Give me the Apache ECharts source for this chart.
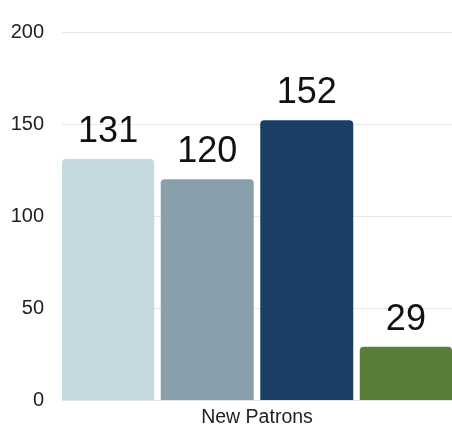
<!DOCTYPE html>
<html><head><meta charset="utf-8">
<script src="https://cdn.jsdelivr.net/npm/echarts@6/dist/echarts.min.js"></script>
<style>html,body{margin:0;padding:0;background:#fff}#c{width:452px;height:431px}</style>
</head><body><div id="c"></div>
<script>
const categories = ['New Patrons'];
const seriesNames = ['Series 1', 'Series 2', 'Series 3', 'Series 4'];
const values = [131, 120, 152, 29];
const colors = ['#c7d9e0', '#899fac', '#1a3f65', '#5b7d3a'];
const yTicks = [0, 50, 100, 150, 200];

const chart = echarts.init(document.getElementById('c'));
chart.setOption({
  animation: false,
  grid: { left: 62, right: -3, top: 32, bottom: 31, containLabel: false },
  xAxis: {
    type: 'category', data: categories,
    axisLine: { show: true, lineStyle: { color: '#e3e3e3' } },
    axisTick: { show: false },
    axisLabel: { color: '#222', fontSize: 19.5, fontFamily: 'Liberation Sans, Arial, sans-serif', margin: 8 }
  },
  yAxis: {
    type: 'value', min: yTicks[0], max: yTicks[yTicks.length - 1], interval: 50,
    axisLine: { show: false }, axisTick: { show: false },
    splitLine: { lineStyle: { color: '#e8e8e8' } },
    axisLabel: { color: '#222', fontSize: 20, fontFamily: 'Liberation Sans, Arial, sans-serif', margin: 18 }
  },
  series: values.map((v, i) => ({
    name: seriesNames[i], type: 'bar', data: [v],
    barWidth: 93, barGap: '7%',
    itemStyle: { color: colors[i], borderRadius: [4, 4, 0, 0] },
    label: { show: true, position: 'top', distance: 9, color: '#111', fontSize: 36,
      fontFamily: 'Liberation Sans, Arial, sans-serif' }
  }))
});
</script></body></html>
